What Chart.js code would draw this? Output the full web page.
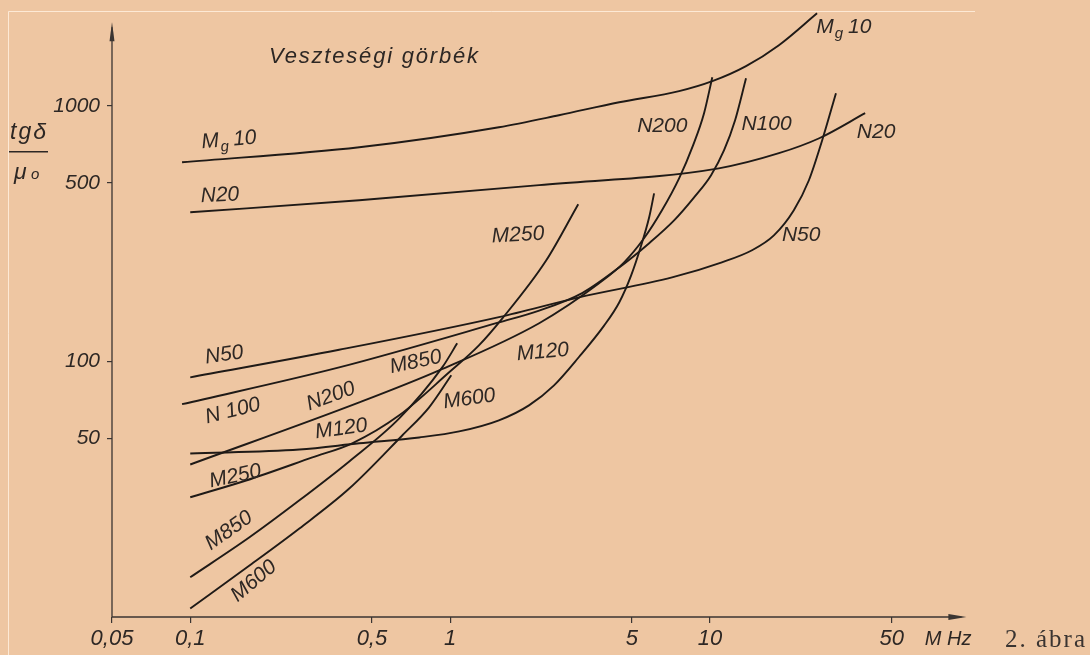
<!DOCTYPE html>
<html lang="hu">
<head>
<meta charset="utf-8">
<title>Veszteségi görbék</title>
<script src="https://cdn.jsdelivr.net/npm/chart.js@4.4.1/dist/chart.umd.min.js"></script>
<style>
  html, body { margin: 0; padding: 0; background: #eec6a2; }
  #wrap { width: 1090px; height: 655px; }
</style>
</head>
<body>
<div id="wrap"><canvas id="losses" width="1090" height="655"></canvas></div>
<script>
// Ferrite loss curves: tg delta / mu0 against frequency in MHz, log-log
const freqTicks = [0.05, 0.1, 0.5, 1, 5, 10, 50];
const lossTicks = [50, 100, 500, 1000];

// [MHz, tg delta / mu0]
const mg10 = [[0.093, 601], [0.447, 688], [1.54, 824], [2.62, 918], [4.47, 1032], [7.6, 1140], [10.2, 1247], [13.75, 1428], [18.4, 1725], [25.8, 2300]];
const n20 = [[0.1, 383], [0.447, 427], [2.2, 489], [10.8, 569], [18.4, 652], [26.3, 746], [39.5, 935]];
const n50 = [[0.1, 86.6], [0.374, 111], [1.54, 149], [3.13, 178], [7.14, 213], [11.1, 244], [14.5, 272], [17.6, 311], [21, 390], [24, 511], [27, 733], [30.5, 1119]];
const n100 = [[0.093, 68], [0.374, 94.7], [1.54, 142], [2.2, 158], [3.22, 185], [4.47, 233], [5.83, 290], [7.27, 356], [8.68, 438], [10.09, 535], [11.32, 670], [12.48, 878], [13.75, 1281]];
const n200 = [[0.1, 39.5], [0.447, 69.1], [0.907, 92.2], [2.2, 141], [3.74, 202], [4.67, 244], [5.57, 303], [6.53, 390], [7.6, 520], [8.6, 700], [9.48, 935], [10.2, 1293]];
const m120 = [[0.1, 43.6], [0.263, 45.2], [0.447, 47.8], [0.76, 50.4], [1.083, 53.2], [1.54, 58.8], [2.01, 67.3], [2.51, 80.6], [3.13, 104], [3.91, 138], [4.47, 170], [4.97, 217], [5.43, 284], [5.83, 366], [6.09, 454]];
const m250 = [[0.1, 29.4], [0.164, 34.2], [0.295, 42.1], [0.42, 47.8], [0.637, 61.5], [0.991, 90.6], [1.29, 115.5], [1.585, 147], [2.34, 248], [3.11, 412]];
const m850 = [[0.1, 14.3], [0.169, 20.5], [0.263, 28.6], [0.409, 40.6], [0.637, 59.8], [0.932, 94.7], [1.064, 117.6]];
const m600 = [[0.1, 10.8], [0.169, 15.9], [0.263, 22.2], [0.409, 31.8], [0.654, 51.3], [0.83, 66.1], [1.01, 88.2]];

// curve names written beside the lines: [text, MHz, value, angle]
const curveNotes = [
  ['Mg10', 0.111, 682, -5],
  ['N20', 0.110, 419, -3],
  ['N50', 0.115, 98.2, -8],
  ['N 100', 0.116, 57.2, -14],
  ['N200', 0.287, 64.3, -20],
  ['M120', 0.305, 50, -8],
  ['M250', 0.120, 32.1, -12],
  ['M850', 0.120, 18.2, -35],
  ['M600', 0.152, 11.4, -40],
  ['M850', 0.593, 89.8, -12],
  ['M600', 0.948, 65.5, -8],
  ['M120', 1.81, 100.9, -5],
  ['M250', 1.45, 292, -3],
  ['N200', 5.24, 788, 0],
  ['N100', 13.2, 802, 0],
  ['N20', 36.7, 746, 0],
  ['N50', 18.9, 297, 0],
  ['Mg10', 25.6, 1922, 0]
];

const ink = '#1f1a17';
const axisInk = '#3b3532';
const textInk = '#2d2724';
const hand = 'italic 21px "Liberation Sans", Arial, sans-serif';

const curve = (label, pts) => ({
  label,
  data: pts.map(([x, y]) => ({ x, y })),
  showLine: true,
  borderColor: ink,
  borderWidth: 1.9,
  pointRadius: 0,
  cubicInterpolationMode: 'monotone',
  fill: false
});

function note(ctx, text, px, py, angle) {
  ctx.save();
  ctx.translate(px, py);
  ctx.rotate(angle * Math.PI / 180);
  ctx.font = hand;
  if (text === 'Mg10') {
    // M with subscript g
    ctx.fillText('M', 0, 0);
    let w = ctx.measureText('M').width;
    ctx.font = 'italic 15px "Liberation Sans", Arial, sans-serif';
    ctx.fillText('g', w + 1, 5);
    w += ctx.measureText('g').width + 6;
    ctx.font = hand;
    ctx.fillText('10', w, 0);
  } else {
    ctx.fillText(text, 0, 0);
  }
  ctx.restore();
}

const sheet = {
  id: 'sheet',
  beforeDraw(chart) {
    const { ctx } = chart;
    // pale edge of the paper
    ctx.save();
    ctx.strokeStyle = 'rgba(255, 238, 222, 0.85)';
    ctx.lineWidth = 1;
    ctx.beginPath();
    ctx.moveTo(8.5, 655); ctx.lineTo(8.5, 11.5); ctx.lineTo(975, 11.5);
    ctx.stroke();
    ctx.restore();
  },
  beforeDatasetsDraw(chart) {
    const { ctx, scales: { x, y } } = chart;
    const x0 = x.getPixelForValue(freqTicks[0]);
    const y0 = y.getPixelForValue(10);
    const xEnd = x.getPixelForValue(96);
    const yEnd = y.getPixelForValue(2100);
    ctx.save();
    ctx.strokeStyle = axisInk;
    ctx.fillStyle = axisInk;
    ctx.lineWidth = 1.3;
    ctx.beginPath();
    ctx.moveTo(x0, y0); ctx.lineTo(xEnd - 4, y0);
    ctx.moveTo(x0, y0); ctx.lineTo(x0, yEnd + 4);
    ctx.stroke();
    // arrow heads
    ctx.beginPath();
    ctx.moveTo(xEnd + 1, y0); ctx.lineTo(xEnd - 17, y0 - 3); ctx.lineTo(xEnd - 17, y0 + 3);
    ctx.closePath(); ctx.fill();
    ctx.beginPath();
    ctx.moveTo(x0, yEnd - 1); ctx.lineTo(x0 - 2.5, yEnd + 18); ctx.lineTo(x0 + 2.5, yEnd + 18);
    ctx.closePath(); ctx.fill();
    ctx.restore();
  },
  afterDraw(chart) {
    const { ctx, scales: { x, y } } = chart;
    ctx.save();
    ctx.fillStyle = textInk;
    ctx.textBaseline = 'alphabetic';
    curveNotes.forEach(([t, f, v, a]) => note(ctx, t, x.getPixelForValue(f), y.getPixelForValue(v), a));

    // title inside the plot
    ctx.font = 'italic 22px "Liberation Sans", Arial, sans-serif';
    ctx.letterSpacing = '1.8px';
    ctx.fillText('Veszteségi görbék', x.getPixelForValue(0.201), y.getPixelForValue(1467));

    // quantity on the vertical axis: tg delta over mu0
    const yTop = y.getPixelForValue(1000);
    ctx.font = 'italic 23px "Liberation Sans", Arial, sans-serif';
    ctx.letterSpacing = '2px';
    ctx.fillText('tgδ', 10, yTop + 33);
    ctx.letterSpacing = '0px';
    ctx.strokeStyle = textInk;
    ctx.lineWidth = 1.3;
    ctx.beginPath(); ctx.moveTo(9, yTop + 46); ctx.lineTo(48, yTop + 46); ctx.stroke();
    ctx.font = 'italic 23px "Liberation Sans", Arial, sans-serif';
    ctx.fillText('μ', 14, yTop + 73);
    ctx.font = 'italic 15px "Liberation Sans", Arial, sans-serif';
    ctx.fillText('o', 31, yTop + 73);

    // unit after the last frequency label
    ctx.font = 'italic 20px "Liberation Sans", Arial, sans-serif';
    ctx.fillText('M Hz', x.getPixelForValue(50) + 33, 645);

    // figure number
    ctx.font = '25px "Liberation Serif", "Times New Roman", serif';
    ctx.fillStyle = '#3a3431';
    ctx.letterSpacing = '2px';
    ctx.fillText('2. ábra', 1005, 647);
    ctx.restore();
  }
};

new Chart(document.getElementById('losses'), {
  type: 'scatter',
  data: {
    datasets: [
      curve('Mg 10', mg10),
      curve('N20', n20),
      curve('N50', n50),
      curve('N100', n100),
      curve('N200', n200),
      curve('M120', m120),
      curve('M250', m250),
      curve('M850', m850),
      curve('M600', m600)
    ]
  },
  options: {
    responsive: false,
    animation: false,
    layout: { padding: { left: 0, right: 120, top: 4, bottom: 0 } },
    plugins: { legend: { display: false }, tooltip: { enabled: false } },
    scales: {
      x: {
        type: 'logarithmic',
        min: 0.05,
        max: 100,
        afterFit: s => { s.height = 38; s.paddingLeft = 0; s.paddingRight = 0; },
        afterBuildTicks: s => { s.ticks = freqTicks.map(value => ({ value })); },
        border: { display: false },
        grid: { drawOnChartArea: false, drawTicks: true, tickLength: 6, color: axisInk, lineWidth: 1.2 },
        ticks: {
          autoSkip: false,
          maxRotation: 0,
          padding: 3,
          color: textInk,
          font: { family: '"Liberation Sans", Arial, sans-serif', size: 22, style: 'italic' },
          callback: v => String(v).replace('.', ',')
        }
      },
      y: {
        type: 'logarithmic',
        min: 10,
        max: 2500,
        afterFit: s => { s.width = 112; s.paddingTop = 0; s.paddingBottom = 0; },
        afterBuildTicks: s => { s.ticks = lossTicks.map(value => ({ value })); },
        border: { display: false },
        grid: { drawOnChartArea: false, drawTicks: true, tickLength: 5, color: axisInk, lineWidth: 1.2 },
        ticks: {
          autoSkip: false,
          padding: 7,
          color: textInk,
          font: { family: '"Liberation Sans", Arial, sans-serif', size: 21, style: 'italic' },
          callback: v => String(v)
        }
      }
    }
  },
  plugins: [sheet]
});
</script>
</body>
</html>
